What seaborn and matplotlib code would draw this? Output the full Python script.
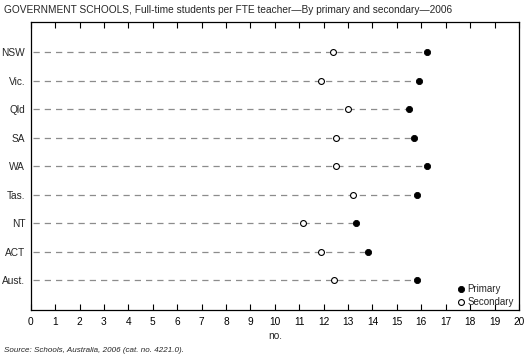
import matplotlib
matplotlib.use("Agg")
import matplotlib.pyplot as plt
import numpy as np
import pandas as pd
import seaborn as sb

states = ["NSW", "Vic.", "Qld", "SA", "WA", "Tas.", "NT", "ACT", "Aust."]
primary = [16.23, 15.90, 15.49, 15.70, 16.23, 15.82, 13.33, 13.82, 15.82]
secondary = [12.40, 11.89, 13.00, 12.50, 12.50, 13.20, 11.17, 11.89, 12.43]

df = pd.DataFrame({"State": states, "Primary": primary, "Secondary": secondary})
df["pos"] = np.arange(len(states))

sb.set_style("white")
plt.rcParams["font.family"] = ["Liberation Sans", "DejaVu Sans"]

fig = plt.figure(figsize=(5.29, 3.63), dpi=100)
ax = fig.add_axes([0.058, 0.146, 0.923, 0.793])

# dashed guide lines from the axis to the larger value
ax.hlines(df["pos"], 0.1, df[["Primary", "Secondary"]].max(axis=1),
          colors="#8c8c8c", linestyles=(0, (5, 4)), linewidth=0.9, zorder=1)

sb.scatterplot(data=df, x="Primary", y="pos", ax=ax, marker="o", s=20,
               color="black", edgecolor="black", linewidth=0.6, zorder=3,
               label="Primary")
sb.scatterplot(data=df, x="Secondary", y="pos", ax=ax, marker="o", s=18,
               facecolor="white", edgecolor="black", linewidth=0.8, zorder=3,
               label="Secondary")

ax.set_xlim(0, 20)
ax.set_ylim(len(states) - 1 + 1.05, -1.05)
ax.set_xticks(range(0, 21))
ax.set_yticks(df["pos"])
ax.set_yticklabels(states)
ax.tick_params(axis="x", direction="in", length=4, width=0.8, top=True,
               bottom=True, labelsize=7.3, pad=5, colors="black")
ax.tick_params(axis="y", length=0, labelsize=7.3, pad=4)
for sp in ax.spines.values():
    sp.set_visible(True)
    sp.set_color("black")
    sp.set_linewidth(0.9)

ax.set_xlabel("no.", fontsize=7.3, labelpad=3)
ax.set_ylabel("")

leg = ax.legend(loc="lower right", frameon=False, fontsize=7, handletextpad=0.2,
                borderaxespad=0.1, labelspacing=0.3, handlelength=1.0,
                bbox_to_anchor=(1.0, -0.005))

fig.text(0.008, 0.972, "GOVERNMENT SCHOOLS, Full-time students per FTE teacher\u2014By primary and secondary\u20142006",
         fontsize=7.3, ha="left", va="center")
fig.text(0.008, 0.035, "Source: Schools, Australia, 2006 (cat. no. 4221.0).",
         fontsize=5.8, style="italic", ha="left", va="center")

fig.savefig("out.png", dpi=100)
